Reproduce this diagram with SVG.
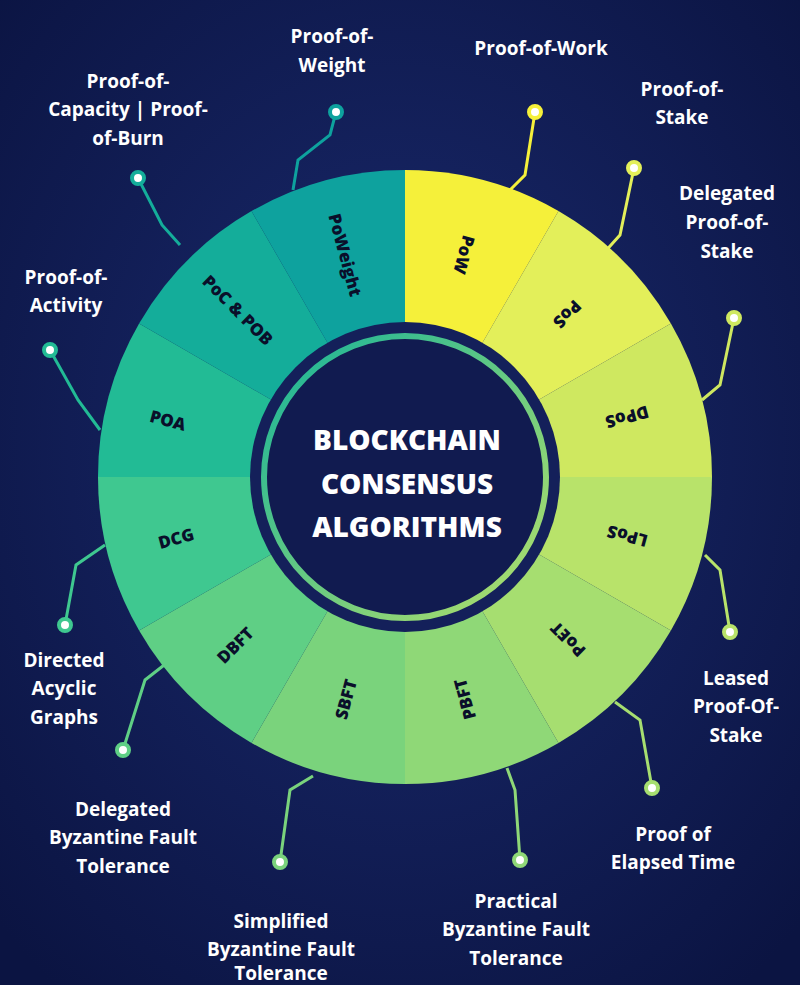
<svg xmlns="http://www.w3.org/2000/svg" width="800" height="985" viewBox="0 0 800 985">
<defs>
<radialGradient id="bg" cx="50%" cy="45%" r="70%"><stop offset="0" stop-color="#1a2a6e"/><stop offset="1" stop-color="#0b1442"/></radialGradient>
<linearGradient id="ringg" x1="0" y1="0" x2="1" y2="1"><stop offset="0" stop-color="#16b39a"/><stop offset="1" stop-color="#b5e06a"/></linearGradient>
</defs>
<style>
.lbl{font-family:"Open Sans","Liberation Sans",sans-serif;font-weight:700;font-size:19px;fill:#fff;text-anchor:middle}
.seg{font-family:"Open Sans","Liberation Sans",sans-serif;font-weight:800;font-size:17px;fill:#0a0f2a;text-anchor:middle;dominant-baseline:central}
.ttl{font-family:"Open Sans","Liberation Sans",sans-serif;font-weight:800;font-size:28px;fill:#fff;text-anchor:middle}
.con{fill:none;stroke-width:3}
.dot{fill:#fff;stroke-width:4}
</style>
<rect width="800" height="985" fill="url(#bg)"/>
<g id="connectors">
<polyline class="con" stroke="#0ea29e" points="293,190 298,160 330,135 336,112"/>
<polyline class="con" stroke="#14ad9a" points="180,245 162,225 138,178"/>
<polyline class="con" stroke="#22bb95" points="100,430 78,400 50,350"/>
<polyline class="con" stroke="#3fc890" points="105,545 76,565 65,625"/>
<polyline class="con" stroke="#5fcf85" points="168,662 145,680 123,750"/>
<polyline class="con" stroke="#7ad37c" points="313,776 290,790 280,862"/>
<polyline class="con" stroke="#8fd877" points="507,768 515,790 520,860"/>
<polyline class="con" stroke="#a6de70" points="615,702 640,720 652,788"/>
<polyline class="con" stroke="#b8e36a" points="705,555 720,570 730,632"/>
<polyline class="con" stroke="#cfe860" points="702,400 720,385 734,318"/>
<polyline class="con" stroke="#e3ef5a" points="602,255 620,235 634,168"/>
<polyline class="con" stroke="#f5f03a" points="510,190 525,175 535,112"/>
<circle class="dot" stroke="#0ea29e" cx="336" cy="112" r="6"/>
<circle class="dot" stroke="#14ad9a" cx="138" cy="178" r="6"/>
<circle class="dot" stroke="#22bb95" cx="50" cy="350" r="6"/>
<circle class="dot" stroke="#3fc890" cx="65" cy="625" r="6"/>
<circle class="dot" stroke="#5fcf85" cx="123" cy="750" r="6"/>
<circle class="dot" stroke="#7ad37c" cx="280" cy="862" r="6"/>
<circle class="dot" stroke="#8fd877" cx="520" cy="860" r="6"/>
<circle class="dot" stroke="#a6de70" cx="652" cy="788" r="6"/>
<circle class="dot" stroke="#b8e36a" cx="730" cy="632" r="6"/>
<circle class="dot" stroke="#cfe860" cx="734" cy="318" r="6"/>
<circle class="dot" stroke="#e3ef5a" cx="634" cy="168" r="6"/>
<circle class="dot" stroke="#f5f03a" cx="535" cy="112" r="6"/>
</g>
<g id="wheel">
<path fill="#f5f03a" d="M405,477 L405,170 A307,307 0 0 1 558.5,211.1 Z"/>
<path fill="#e3ef5a" d="M405,477 L558.5,211.1 A307,307 0 0 1 670.9,323.5 Z"/>
<path fill="#cfe860" d="M405,477 L670.9,323.5 A307,307 0 0 1 712,477 Z"/>
<path fill="#b8e36a" d="M405,477 L712,477 A307,307 0 0 1 670.9,630.5 Z"/>
<path fill="#a6de70" d="M405,477 L670.9,630.5 A307,307 0 0 1 558.5,742.9 Z"/>
<path fill="#8fd877" d="M405,477 L558.5,742.9 A307,307 0 0 1 405,784 Z"/>
<path fill="#7ad37c" d="M405,477 L405,784 A307,307 0 0 1 251.5,742.9 Z"/>
<path fill="#5fcf85" d="M405,477 L251.5,742.9 A307,307 0 0 1 139.1,630.5 Z"/>
<path fill="#3fc890" d="M405,477 L139.1,630.5 A307,307 0 0 1 98,477 Z"/>
<path fill="#22bb95" d="M405,477 L98,477 A307,307 0 0 1 139.1,323.5 Z"/>
<path fill="#14ad9a" d="M405,477 L139.1,323.5 A307,307 0 0 1 251.5,211.1 Z"/>
<path fill="#0ea29e" d="M405,477 L251.5,211.1 A307,307 0 0 1 405,170 Z"/>
<circle cx="405" cy="477" r="155" fill="#14205a"/>
<circle cx="405" cy="477" r="141" fill="#111b50" stroke="url(#ringg)" stroke-width="6"/>
</g>
<g id="segment-labels">
<text class="seg" transform="translate(464.5,254.8) rotate(105)">PoW</text>
<text class="seg" transform="translate(567.6,314.4) rotate(135)">PoS</text>
<text class="seg" transform="translate(627.2,417.5) rotate(165)">DPoS</text>
<text class="seg" transform="translate(627.2,536.5) rotate(195)">LPoS</text>
<text class="seg" transform="translate(567.6,639.6) rotate(225)">PoET</text>
<text class="seg" transform="translate(464.5,699.2) rotate(255)">PBFT</text>
<text class="seg" transform="translate(345.5,699.2) rotate(285)">SBFT</text>
<text class="seg" transform="translate(235,645) rotate(315)">DBFT</text>
<text class="seg" transform="translate(176,538) rotate(345)">DCG</text>
<text class="seg" transform="translate(168,420) rotate(15)">POA</text>
<text class="seg" transform="translate(238,310) rotate(45)">PoC &amp; POB</text>
<text class="seg" transform="translate(345.5,254.8) rotate(75)">PoWeight</text>
</g>
<g id="title">
<text class="ttl" x="407" y="450">BLOCKCHAIN</text>
<text class="ttl" x="407" y="494">CONSENSUS</text>
<text class="ttl" x="407" y="537">ALGORITHMS</text>
</g>
<g id="labels">
<text class="lbl" x="332" y="43">Proof-of-</text><text class="lbl" x="332" y="72">Weight</text>
<text class="lbl" x="128" y="88">Proof-of-</text><text class="lbl" x="128" y="116">Capacity | Proof-</text><text class="lbl" x="128" y="145">of-Burn</text>
<text class="lbl" x="66" y="284">Proof-of-</text><text class="lbl" x="66" y="312">Activity</text>
<text class="lbl" x="541" y="55">Proof-of-Work</text>
<text class="lbl" x="682" y="96">Proof-of-</text><text class="lbl" x="682" y="124">Stake</text>
<text class="lbl" x="727" y="200">Delegated</text><text class="lbl" x="727" y="229">Proof-of-</text><text class="lbl" x="727" y="258">Stake</text>
<text class="lbl" x="736" y="685">Leased</text><text class="lbl" x="736" y="713">Proof-Of-</text><text class="lbl" x="736" y="742">Stake</text>
<text class="lbl" x="673" y="841">Proof of</text><text class="lbl" x="673" y="869">Elapsed Time</text>
<text class="lbl" x="516" y="908">Practical</text><text class="lbl" x="516" y="936">Byzantine Fault</text><text class="lbl" x="516" y="965">Tolerance</text>
<text class="lbl" x="281" y="928">Simplified</text><text class="lbl" x="281" y="956">Byzantine Fault</text><text class="lbl" x="281" y="980">Tolerance</text>
<text class="lbl" x="123" y="816">Delegated</text><text class="lbl" x="123" y="844">Byzantine Fault</text><text class="lbl" x="123" y="873">Tolerance</text>
<text class="lbl" x="64" y="667">Directed</text><text class="lbl" x="64" y="695">Acyclic</text><text class="lbl" x="64" y="724">Graphs</text>
</g>
</svg>
